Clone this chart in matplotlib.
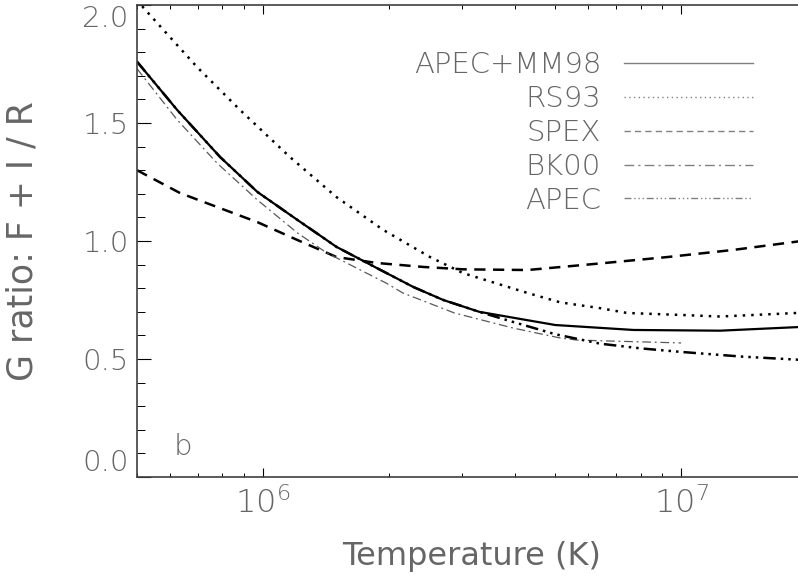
import numpy as np
import matplotlib.pyplot as plt
from matplotlib.ticker import FixedLocator, FormatStrFormatter, LogLocator, NullFormatter

# values (temperature in K, G ratio)
t_mm98 = [5.0e5, 6.24e5, 7.9e5, 9.7e5, 1.21e6, 1.50e6, 1.87e6, 2.29e6, 2.70e6, 3.29e6, 5.0e6, 7.7e6, 1.24e7, 2.0e7]
g_mm98 = [1.76, 1.555, 1.356, 1.208, 1.089, 0.975, 0.886, 0.805, 0.750, 0.700, 0.644, 0.623, 0.620, 0.637]

t_rs93 = [5.0e5, 5.17e5, 6.96e5, 8.82e5, 1.16e6, 1.50e6, 1.94e6, 2.51e6, 3.01e6, 4.29e6, 5.14e6, 6.37e6, 7.43e6, 1.02e7, 1.24e7, 2.0e7]
g_rs93 = [2.03, 1.99, 1.737, 1.555, 1.356, 1.186, 1.047, 0.932, 0.864, 0.780, 0.740, 0.716, 0.695, 0.686, 0.680, 0.697]

t_spex = [5.0e5, 6.34e5, 7.77e5, 9.7e5, 1.21e6, 1.50e6, 1.87e6, 2.42e6, 3.01e6, 4.29e6, 6.41e6, 9.27e6, 1.33e7, 2.0e7]
g_spex = [1.30, 1.203, 1.144, 1.080, 1.004, 0.932, 0.907, 0.890, 0.880, 0.877, 0.905, 0.932, 0.962, 1.003]

t_bk00 = [5.0e5, 6.24e5, 7.77e5, 9.7e5, 1.21e6, 1.42e6, 1.97e6, 2.16e6, 2.87e6, 3.97e6, 5.14e6, 5.65e6, 1.0e7]
g_bk00 = [1.73, 1.513, 1.33, 1.174, 1.034, 0.95, 0.822, 0.780, 0.695, 0.631, 0.589, 0.580, 0.568]

t_apec = [5.0e5, 6.24e5, 7.9e5, 9.7e5, 1.21e6, 1.50e6, 1.87e6, 2.29e6, 2.70e6, 3.29e6, 4.0e6, 5.0e6, 6.4e6, 8.0e6, 1.0e7, 1.4e7, 2.0e7]
g_apec = [1.76, 1.555, 1.356, 1.208, 1.089, 0.975, 0.886, 0.805, 0.750, 0.700, 0.655, 0.605, 0.565, 0.545, 0.530, 0.510, 0.495]

ytick_vals = [0.0, 0.5, 1.0, 1.5, 2.0]

txt = '0.4'
plt.rcParams['font.family'] = 'DejaVu Sans'
plt.rcParams['font.weight'] = 'light'
plt.rcParams['mathtext.default'] = 'regular'

fig = plt.figure(figsize=(7.98, 5.84), dpi=100)
ax = fig.add_axes([137/798, 107/584, 670/798, 472/584])

ax.plot(t_mm98, g_mm98, color='k', lw=1.6, ls='-', label='APEC+MM98')
ax.plot(t_rs93, g_rs93, color='k', lw=1.8, ls=(0, (1, 2.4)), label='RS93')
ax.plot(t_spex, g_spex, color='k', lw=1.8, ls=(0, (4.5, 3)), label='SPEX')
ax.plot(t_bk00, g_bk00, color='0.35', lw=0.9, ls=(0, (7, 3, 1.5, 3)), label='BK00')
ax.plot(t_apec, g_apec, color='k', lw=1.8, ls=(0, (5, 2, 1, 2, 1, 2, 1, 2)), label='APEC')

ax.set_xscale('log')
ax.set_xlim(5e5, 2e7)
ax.set_ylim(0, 2.0)

ax.yaxis.set_major_locator(FixedLocator(ytick_vals))
ax.yaxis.set_minor_locator(FixedLocator(np.arange(0, 2.01, 0.1)))
ax.yaxis.set_major_formatter(FormatStrFormatter('%.1f'))
ax.xaxis.set_minor_locator(LogLocator(base=10, subs=np.arange(2, 10)))
ax.xaxis.set_minor_formatter(NullFormatter())

ax.tick_params(axis='y', which='major', direction='in', length=10, width=0.8, labelsize=21,
               labelcolor=txt, pad=6, right=False)
ax.tick_params(axis='y', which='minor', direction='in', length=5.5, width=0.7, right=False)
ax.tick_params(axis='x', which='major', direction='in', length=6.5, width=0.8, labelsize=23,
               labelcolor=txt, pad=7, top=True)
ax.tick_params(axis='x', which='minor', direction='in', length=3, width=0.7, top=True)

for s in ax.spines.values():
    s.set_color('0.25')
    s.set_linewidth(1.2)

# end labels sit inside the axis range like in the original
yt = ax.yaxis.get_major_ticks()
yt[0].label1.set_va('bottom')
yt[-1].label1.set_va('top')

ax.set_xlabel('Temperature (K)', fontsize=23, color=txt)
ax.xaxis.set_label_coords(0.5, -0.135)
ax.set_ylabel('G ratio: F + I / R', fontsize=25, color=txt)
ax.yaxis.set_label_coords(-0.145, 0.5)

ax.text(0.054, 0.047, 'b', transform=ax.transAxes, fontsize=21, color=txt, va='baseline', ha='left')

leg = ax.legend(loc='upper right', bbox_to_anchor=(0.919, 0.902), frameon=False, markerfirst=False,
                fontsize=21, handlelength=4.4, handletextpad=0.8, labelspacing=0.2, borderpad=0,
                borderaxespad=0)
for t in leg.get_texts():
    t.set_color(txt)
for l in leg.get_lines():
    l.set_color('0.5')
    l.set_linewidth(1.0)

fig.savefig('out.png', dpi=100)
